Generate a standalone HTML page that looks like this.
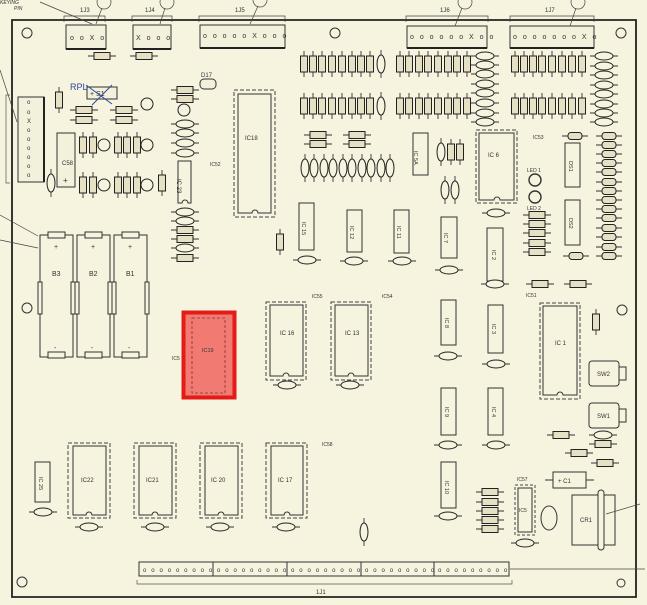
<!DOCTYPE html>
<html><head><meta charset="utf-8"><style>
html,body{margin:0;padding:0;background:#f6f3df}
svg{display:block}
text{font-family:"Liberation Sans",sans-serif;fill:#333}
</style></head><body>
<svg width="647" height="605" viewBox="0 0 647 605" xmlns="http://www.w3.org/2000/svg">
<defs>
<g id="rv"><line x1="0" y1="-13" x2="0" y2="13" stroke="#333" stroke-width="0.9"/><rect x="-3.5" y="-8" width="7" height="16" fill="#e6e0c4" stroke="#222" stroke-width="1"/></g>
<g id="rh"><line x1="-14" y1="0" x2="14" y2="0" stroke="#333" stroke-width="0.9"/><rect x="-8" y="-3.5" width="16" height="7" fill="#e6e0c4" stroke="#222" stroke-width="1"/></g>
<g id="ch"><line x1="-14" y1="0" x2="14" y2="0" stroke="#333" stroke-width="0.9"/><ellipse cx="0" cy="0" rx="9" ry="4" fill="#f6f3df" stroke="#222" stroke-width="1"/></g>
<g id="cv"><line x1="0" y1="-14" x2="0" y2="14" stroke="#333" stroke-width="0.9"/><ellipse cx="0" cy="0" rx="4" ry="9" fill="#f6f3df" stroke="#222" stroke-width="1"/></g>
<g id="q"><circle r="6" fill="#f6f3df" stroke="#222" stroke-width="1"/></g>
<g id="dh"><line x1="-13" y1="0" x2="13" y2="0" stroke="#333" stroke-width="0.9"/><rect x="-7" y="-3.5" width="14" height="7" rx="3" fill="#e6e0c4" stroke="#222" stroke-width="1"/></g>
</defs>
<rect width="647" height="605" fill="#f6f3df"/>
<path d="M12 20 H636 V597 H12 Z" fill="none" stroke="#222" stroke-width="1.8"/>
<g fill="none" stroke="#333" stroke-width="1">
<circle cx="27" cy="33" r="5"/><circle cx="335" cy="33" r="5"/><circle cx="621" cy="33" r="5"/>
<circle cx="27" cy="308" r="5"/><circle cx="622" cy="310" r="5"/><circle cx="22" cy="582" r="5"/><circle cx="621" cy="583" r="4"/>
</g>
<g fill="#f3f0dc" stroke="#333" stroke-width="1">
<rect x="66" y="25" width="40" height="24"/><rect x="133" y="25" width="38" height="24"/><rect x="200" y="25" width="85" height="23"/>
<rect x="407" y="26" width="80" height="22"/><rect x="510" y="26" width="84" height="22"/>
</g>
<g stroke="#222" stroke-width="2"><line x1="66" y1="49" x2="106" y2="49"/><line x1="133" y1="49" x2="171" y2="49"/><line x1="200" y1="48" x2="285" y2="48"/><line x1="407" y1="48" x2="487" y2="48"/><line x1="510" y1="48" x2="594" y2="48"/></g>
<g font-size="7" letter-spacing="2">
<text x="70" y="40">o o X o</text><text x="136" y="40">X o o o</text><text x="203" y="38">o o o o o X o o o</text>
<text x="410" y="39">o o o o o o X o o</text><text x="513" y="39">o o o o o o o X o</text>
</g>
<g font-size="6"><text x="80" y="12">1J3</text><text x="145" y="12">1J4</text><text x="235" y="12">1J5</text><text x="440" y="12">1J6</text><text x="545" y="12">1J7</text>
<text x="0" y="4" font-style="italic" font-size="5">KEYING</text><text x="14" y="10" font-style="italic" font-size="5">PIN</text></g>
<g fill="none" stroke="#444" stroke-width="0.7">
<path d="M64 22 V16 H105 V22"/><path d="M132 22 V16 H172 V22"/><path d="M199 22 V16 H285 V22"/><path d="M406 22 V16 H488 V22"/><path d="M510 22 V16 H594 V22"/>
<circle cx="104" cy="2" r="7"/><circle cx="167" cy="2" r="7"/><circle cx="260" cy="0" r="7"/><circle cx="465" cy="2" r="7"/><circle cx="578" cy="2" r="7"/>
<line x1="40" y1="2" x2="92" y2="24"/><line x1="102" y1="8" x2="96" y2="24"/><line x1="165" y1="8" x2="160" y2="24"/><line x1="258" y1="6" x2="250" y2="24"/><line x1="462" y1="8" x2="455" y2="26"/><line x1="576" y1="8" x2="570" y2="26"/>
</g>
<use href="#rh" x="102" y="56"/><use href="#rh" x="144" y="56"/>
<rect x="18" y="97" width="26" height="85" fill="#f3f0dc" stroke="#333"/><line x1="44" y1="97" x2="44" y2="182" stroke="#222" stroke-width="2"/>
<g font-size="6"><text x="27" y="104">o</text><text x="27" y="114">o</text><text x="27" y="123">X</text><text x="27" y="132">o</text><text x="27" y="141">o</text><text x="27" y="150">o</text><text x="27" y="159">o</text><text x="27" y="168">o</text><text x="27" y="177">o</text></g>
<path d="M10 95 H6 V183 H10" fill="none" stroke="#555" stroke-width="0.7"/>
<line x1="0" y1="70" x2="17" y2="122" stroke="#444" stroke-width="0.7"/>
<rect x="57" y="133" width="18" height="54" fill="#f3f0dc" stroke="#333"/><text x="62" y="165" font-size="6">C58</text><text x="63" y="183" font-size="8">+</text>
<use href="#cv" x="51" y="183"/>
<rect x="87" y="87" width="30" height="12" fill="#f3f0dc" stroke="#333"/><text x="90" y="96" font-size="7">+  S1</text>
<path d="M86 85 L112 104 M112 85 L92 105" stroke="#2a4a9a" stroke-width="1" fill="none"/>
<text x="70" y="90" font-size="9" style="fill:#2a4a9a">RPL</text>
<use href="#rv" x="59" y="100"/><use href="#rh" x="84" y="110"/><use href="#rh" x="124" y="110"/><use href="#rh" x="84" y="120"/><use href="#rh" x="124" y="120"/>
<use href="#q" x="147" y="104"/>
<use href="#rv" x="83" y="145"/><use href="#rv" x="93" y="145"/><use href="#q" x="104" y="145"/><use href="#rv" x="118" y="145"/><use href="#rv" x="127" y="145"/><use href="#rv" x="137" y="145"/><use href="#q" x="147" y="145"/>
<use href="#rv" x="83" y="185"/><use href="#rv" x="93" y="185"/><use href="#q" x="104" y="185"/><use href="#rv" x="118" y="185"/><use href="#rv" x="127" y="185"/><use href="#rv" x="137" y="185"/><use href="#q" x="147" y="185"/><use href="#rv" x="162" y="183"/>
<use href="#rh" x="185" y="90"/><use href="#rh" x="185" y="99"/><use href="#q" x="184" y="110"/>
<use href="#ch" x="185" y="124"/><use href="#ch" x="185" y="133"/><use href="#ch" x="185" y="143"/><use href="#ch" x="185" y="153"/>
<use href="#ch" x="185" y="212"/><use href="#ch" x="185" y="221"/><use href="#rh" x="185" y="230"/><use href="#rh" x="185" y="239"/><use href="#ch" x="185" y="248"/><use href="#rh" x="185" y="258"/>
<rect x="200" y="79" width="16" height="10" rx="4" fill="#f3f0dc" stroke="#333"/><text x="201" y="77" font-size="6">D17</text>
<path d="M178 161 H191 V203 H188 A3 3 0 0 0 182 203 H178 Z" fill="#f6f3df" stroke="#333"/><text x="182" y="190" font-size="6" transform="rotate(90 185 182)">IC 23</text>
<rect x="234" y="90" width="41" height="127" fill="none" stroke="#444" stroke-dasharray="4,2"/>
<path d="M238 94 H271 V213 H258 A3 3 0 0 0 252 213 H238 Z" fill="#f6f3df" stroke="#333"/>
<text x="245" y="140" font-size="6">IC18</text><text x="210" y="166" font-size="5">IC52</text>
<use href="#rv" x="280" y="242"/>
<g id="row1"><use href="#rv" x="304" y="64"/><use href="#rv" x="313" y="64"/><use href="#rv" x="322" y="64"/><use href="#rv" x="332" y="64"/><use href="#rv" x="342" y="64"/><use href="#rv" x="352" y="64"/><use href="#rv" x="361" y="64"/><use href="#rv" x="370" y="64"/><use href="#cv" x="381" y="64"/>
<use href="#rv" x="400" y="64"/><use href="#rv" x="409" y="64"/><use href="#rv" x="419" y="64"/><use href="#rv" x="428" y="64"/><use href="#rv" x="438" y="64"/><use href="#rv" x="448" y="64"/><use href="#rv" x="457" y="64"/><use href="#rv" x="467" y="64"/>
<use href="#rv" x="515" y="64"/><use href="#rv" x="524" y="64"/><use href="#rv" x="533" y="64"/><use href="#rv" x="542" y="64"/><use href="#rv" x="552" y="64"/><use href="#rv" x="562" y="64"/><use href="#rv" x="572" y="64"/><use href="#rv" x="582" y="64"/></g>
<use href="#row1" y="42"/>
<use href="#ch" x="485" y="56"/><use href="#ch" x="485" y="65"/><use href="#ch" x="485" y="74"/><use href="#ch" x="485" y="84"/><use href="#ch" x="485" y="93"/><use href="#ch" x="485" y="103"/><use href="#ch" x="485" y="113"/><use href="#ch" x="485" y="122"/>
<use href="#ch" x="604" y="56"/><use href="#ch" x="604" y="66"/><use href="#ch" x="604" y="75"/><use href="#ch" x="604" y="85"/><use href="#ch" x="604" y="94"/><use href="#ch" x="604" y="104"/><use href="#ch" x="604" y="113"/><use href="#ch" x="604" y="122"/>
<use href="#rh" x="318" y="135"/><use href="#rh" x="318" y="144"/><use href="#rh" x="357" y="135"/><use href="#rh" x="357" y="144"/>
<use href="#cv" x="305" y="168"/><use href="#cv" x="314" y="168"/><use href="#cv" x="324" y="168"/><use href="#cv" x="333" y="168"/><use href="#cv" x="343" y="168"/><use href="#cv" x="352" y="168"/><use href="#cv" x="362" y="168"/><use href="#cv" x="371" y="168"/><use href="#cv" x="381" y="168"/><use href="#cv" x="390" y="168"/>
<use href="#cv" x="441" y="152"/><use href="#rv" x="451" y="152"/><use href="#rv" x="460" y="152"/><use href="#cv" x="445" y="190"/><use href="#cv" x="455" y="190"/>
<g fill="#f6f3df" stroke="#333">
<path d="M413 133 H428 V175 H413 Z"/><path d="M299 203 H314 V250 H299 Z"/><path d="M347 210 H362 V252 H347 Z"/><path d="M394 210 H409 V253 H394 Z"/><path d="M441 217 H457 V258 H441 Z"/><path d="M487 228 H503 V281 H487 Z"/>
<path d="M565 143 H580 V187 H565 Z"/><path d="M565 200 H580 V245 H565 Z"/>
<path d="M441 300 H456 V345 H441 Z"/><path d="M488 305 H503 V353 H488 Z"/><path d="M441 388 H456 V435 H441 Z"/><path d="M488 388 H503 V435 H488 Z"/><path d="M441 462 H456 V508 H441 Z"/><path d="M35 462 H50 V502 H35 Z"/>
</g>
<g font-size="5.5">
<text x="417" y="160" transform="rotate(90 420 154)">IC 5A</text><text x="302" y="230" transform="rotate(90 306 226)">IC 15</text><text x="350" y="234" transform="rotate(90 354 230)">IC 12</text><text x="397" y="234" transform="rotate(90 401 230)">IC 11</text><text x="444" y="241" transform="rotate(90 448 237)">IC 7</text><text x="491" y="257" transform="rotate(90 495 254)">IC 2</text>
<text x="568" y="168" transform="rotate(90 572 165)">DS1</text><text x="568" y="225" transform="rotate(90 572 222)">DS2</text>
<text x="444" y="325" transform="rotate(90 448 322)">IC 8</text><text x="491" y="331" transform="rotate(90 495 328)">IC 3</text><text x="444" y="414" transform="rotate(90 448 411)">IC 9</text><text x="491" y="414" transform="rotate(90 495 411)">IC 4</text><text x="444" y="488" transform="rotate(90 448 485)">IC 10</text><text x="37" y="485" transform="rotate(90 42 482)">IC 25</text>
</g>
<use href="#ch" x="307" y="260"/><use href="#ch" x="354" y="261"/><use href="#ch" x="402" y="261"/><use href="#ch" x="449" y="270"/><use href="#ch" x="495" y="284"/><use href="#ch" x="496" y="213"/>
<rect x="476" y="130" width="41" height="73" fill="none" stroke="#444" stroke-dasharray="4,2"/>
<path d="M479 133 H514 V200 H500 A3 3 0 0 0 494 200 H479 Z" fill="#f6f3df" stroke="#333"/><text x="488" y="157" font-size="6">IC 6</text>
<text x="533" y="139" font-size="5">IC53</text>
<circle cx="535" cy="180" r="6" fill="#f6f3df" stroke="#333" stroke-width="1.4"/><circle cx="535" cy="197" r="6" fill="#f6f3df" stroke="#333" stroke-width="1.4"/>
<text x="527" y="172" font-size="5">LED 1</text><text x="527" y="210" font-size="5">LED 2</text>
<use href="#rh" x="537" y="215"/><use href="#rh" x="537" y="224"/><use href="#rh" x="537" y="233"/><use href="#rh" x="537" y="243"/><use href="#rh" x="537" y="252"/>
<use href="#dh" x="575" y="136"/><use href="#dh" x="576" y="256"/>
<use href="#dh" x="609" y="136"/><use href="#dh" x="609" y="145"/><use href="#dh" x="609" y="154"/><use href="#dh" x="609" y="163"/><use href="#dh" x="609" y="172"/><use href="#dh" x="609" y="182"/><use href="#dh" x="609" y="191"/><use href="#dh" x="609" y="200"/><use href="#dh" x="609" y="209"/><use href="#dh" x="609" y="218"/><use href="#dh" x="609" y="228"/><use href="#dh" x="609" y="237"/><use href="#dh" x="609" y="247"/><use href="#dh" x="609" y="256"/>
<use href="#rh" x="540" y="284"/><use href="#rh" x="578" y="284"/><use href="#rv" x="596" y="322"/>
<g fill="#f6f3df" stroke="#333">
<rect x="40" y="235" width="33" height="122"/><rect x="77" y="235" width="33" height="122"/><rect x="114" y="235" width="33" height="122"/>
<rect x="48" y="232" width="17" height="6"/><rect x="85" y="232" width="17" height="6"/><rect x="122" y="232" width="17" height="6"/>
<rect x="48" y="352" width="17" height="6"/><rect x="85" y="352" width="17" height="6"/><rect x="122" y="352" width="17" height="6"/>
<rect x="38" y="282" width="4" height="32"/><rect x="71" y="282" width="4" height="32"/><rect x="75" y="282" width="4" height="32"/><rect x="108" y="282" width="4" height="32"/><rect x="112" y="282" width="4" height="32"/><rect x="145" y="282" width="4" height="32"/>
</g>
<g font-size="7"><text x="52" y="276">B3</text><text x="89" y="276">B2</text><text x="126" y="276">B1</text><text x="54" y="249">+</text><text x="91" y="249">+</text><text x="128" y="249">+</text><text x="54" y="350">-</text><text x="91" y="350">-</text><text x="128" y="350">-</text></g>
<line x1="0" y1="215" x2="38" y2="236" stroke="#444" stroke-width="0.7"/><line x1="0" y1="240" x2="38" y2="248" stroke="#444" stroke-width="0.7"/>
<rect x="183.5" y="312.5" width="51" height="85" fill="#f17a72" stroke="#e41b17" stroke-width="4"/>
<rect x="192" y="318" width="33" height="75" fill="none" stroke="#8a3030" stroke-dasharray="3,2" stroke-width="0.8"/>
<text x="202" y="352" font-size="5.5">IC19</text><text x="172" y="360" font-size="5">IC5</text>
<rect x="266" y="302" width="40" height="78" fill="none" stroke="#444" stroke-dasharray="4,2"/>
<path d="M270 305 H303 V376 H289 A3 3 0 0 0 283 376 H270 Z" fill="#f6f3df" stroke="#333"/><text x="280" y="335" font-size="6">IC 16</text>
<rect x="331" y="302" width="40" height="78" fill="none" stroke="#444" stroke-dasharray="4,2"/>
<path d="M335 305 H368 V376 H354 A3 3 0 0 0 348 376 H335 Z" fill="#f6f3df" stroke="#333"/><text x="345" y="335" font-size="6">IC 13</text>
<text x="312" y="298" font-size="5">IC55</text><text x="382" y="298" font-size="5">IC54</text>
<use href="#ch" x="287" y="385"/><use href="#ch" x="350" y="385"/>
<rect x="540" y="303" width="40" height="96" fill="none" stroke="#444" stroke-dasharray="4,2"/>
<path d="M543 306 H577 V395 H563 A3 3 0 0 0 557 395 H543 Z" fill="#f6f3df" stroke="#333"/><text x="555" y="345" font-size="6">IC 1</text>
<text x="526" y="297" font-size="5">IC51</text>
<use href="#ch" x="448" y="356"/><use href="#ch" x="496" y="364"/><use href="#ch" x="448" y="445"/><use href="#ch" x="496" y="445"/><use href="#ch" x="448" y="516"/>
<rect x="589" y="361" width="30" height="25" rx="3" fill="#f6f3df" stroke="#333"/><rect x="619" y="367" width="7" height="13" fill="#f6f3df" stroke="#333"/><text x="597" y="376" font-size="6">SW2</text>
<rect x="589" y="403" width="30" height="25" rx="3" fill="#f6f3df" stroke="#333"/><rect x="619" y="409" width="7" height="13" fill="#f6f3df" stroke="#333"/><text x="597" y="418" font-size="6">SW1</text>
<use href="#rh" x="561" y="435"/><use href="#ch" x="603" y="435"/><use href="#rh" x="603" y="444"/><use href="#rh" x="579" y="453"/><use href="#rh" x="605" y="463"/>
<g>
<rect x="68" y="443" width="42" height="75" fill="none" stroke="#444" stroke-dasharray="4,2"/><path d="M73 446 H106 V515 H92 A3 3 0 0 0 86 515 H73 Z" fill="#f6f3df" stroke="#333"/>
<rect x="134" y="443" width="42" height="75" fill="none" stroke="#444" stroke-dasharray="4,2"/><path d="M139 446 H172 V515 H158 A3 3 0 0 0 152 515 H139 Z" fill="#f6f3df" stroke="#333"/>
<rect x="200" y="443" width="42" height="75" fill="none" stroke="#444" stroke-dasharray="4,2"/><path d="M205 446 H238 V515 H224 A3 3 0 0 0 218 515 H205 Z" fill="#f6f3df" stroke="#333"/>
<rect x="266" y="443" width="41" height="75" fill="none" stroke="#444" stroke-dasharray="4,2"/><path d="M271 446 H303 V515 H290 A3 3 0 0 0 284 515 H271 Z" fill="#f6f3df" stroke="#333"/>
</g>
<g font-size="6"><text x="81" y="482">IC22</text><text x="146" y="482">IC21</text><text x="211" y="482">IC 20</text><text x="278" y="482">IC 17</text><text x="322" y="446" font-size="5">IC58</text></g>
<use href="#ch" x="43" y="512"/><use href="#ch" x="89" y="527"/><use href="#ch" x="155" y="527"/><use href="#ch" x="220" y="527"/><use href="#ch" x="286" y="527"/><use href="#cv" x="364" y="532"/>
<rect x="515" y="485" width="20" height="50" fill="none" stroke="#444" stroke-dasharray="3,2"/><rect x="518" y="488" width="14" height="44" fill="#f6f3df" stroke="#333"/><text x="519" y="512" font-size="5">IC5</text>
<text x="517" y="481" font-size="5">IC57</text>
<use href="#rh" x="490" y="492"/><use href="#rh" x="490" y="502"/><use href="#rh" x="490" y="511"/><use href="#rh" x="490" y="520"/><use href="#rh" x="490" y="529"/><use href="#ch" x="525" y="543"/>
<ellipse cx="549" cy="518" rx="8" ry="12" fill="none" stroke="#333"/>
<rect x="553" y="472" width="33" height="16" fill="#f6f3df" stroke="#333"/><text x="558" y="483" font-size="6">+   C1</text><line x1="545" y1="480" x2="553" y2="480" stroke="#333"/><line x1="586" y1="480" x2="594" y2="480" stroke="#333"/>
<rect x="572" y="495" width="43" height="50" fill="#f6f3df" stroke="#333"/><rect x="598" y="490" width="6" height="60" rx="3" fill="#f6f3df" stroke="#333"/><text x="580" y="522" font-size="6">CR1</text>
<line x1="606" y1="514" x2="640" y2="504" stroke="#444" stroke-width="0.7"/>
<rect x="139" y="562" width="370" height="14" fill="#f6f3df" stroke="#333"/>
<g stroke="#333"><line x1="213" y1="562" x2="213" y2="576"/><line x1="287" y1="562" x2="287" y2="576"/><line x1="361" y1="562" x2="361" y2="576"/><line x1="434" y1="562" x2="434" y2="576"/></g>
<g font-size="6" letter-spacing="4.9"><text x="143" y="572">ooooooooo</text><text x="217" y="572">ooooooooo</text><text x="291" y="572">ooooooooo</text><text x="365" y="572">ooooooooo</text><text x="438" y="572">ooooooooo</text></g>
<path d="M137 580 V584 H512 V580" fill="none" stroke="#555" stroke-width="0.7"/><text x="316" y="594" font-size="6">1J1</text>
<line x1="510" y1="569" x2="645" y2="569" stroke="#444" stroke-width="0.7"/>
</svg>
</body></html>
